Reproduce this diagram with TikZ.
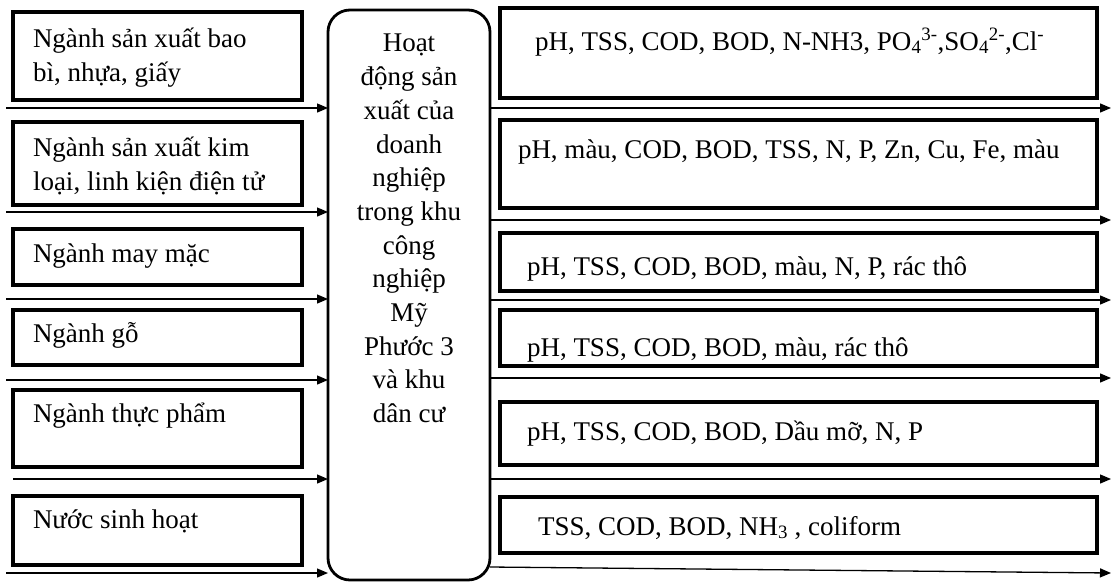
\documentclass[tikz,border=0pt]{standalone}
\usepackage{fontspec}
\setmainfont{Liberation Serif}
\usetikzlibrary{arrows.meta}
\tikzset{
  x=1pt, y=-1pt,
  box/.style={draw=black, line width=3.4pt, rectangle, inner sep=0pt, outer sep=0pt},
  midbox/.style={draw=black, line width=2.8pt, rectangle, rounded corners=22pt, inner sep=0pt, outer sep=0pt},
  txt/.style={inner sep=0pt, outer sep=0pt, font=\fontsize{27}{33.7}\selectfont},
  arr/.style={line width=1.3pt, -{Triangle[length=11pt,width=9pt]}},
}
\begin{document}
\begin{tikzpicture}
\useasboundingbox (0,0) rectangle (1111,582);
% left boxes
\node[box, minimum width=289pt, minimum height=88pt] (L1) at (157.5,56) {};
\node[box, minimum width=289pt, minimum height=83pt] (L2) at (157.5,163.5) {};
\node[box, minimum width=289pt, minimum height=56pt] (L3) at (157.5,257) {};
\node[box, minimum width=289pt, minimum height=55pt] (L4) at (157.5,337.5) {};
\node[box, minimum width=289pt, minimum height=77pt] (L5) at (157.5,428.5) {};
\node[box, minimum width=289pt, minimum height=69pt] (L6) at (157.5,530.5) {};
\node[txt, anchor=north west, align=left] (tL1) at (33,24.4) {\strut Ngành sản xuất bao\\bì, nhựa, giấy};
\node[txt, anchor=north west, align=left] (tL2) at (33,133.4) {\strut Ngành sản xuất kim\\loại, linh kiện điện tử};
\node[txt, anchor=base west] (tL3) at (33,262) {Ngành may mặc};
\node[txt, anchor=base west] (tL4) at (33,342) {Ngành gỗ};
\node[txt, anchor=base west] (tL5) at (33,422) {Ngành thực phẩm};
\node[txt, anchor=base west] (tL6) at (33,528) {Nước sinh hoạt};
% middle box
\node[midbox, minimum width=162pt, minimum height=570pt] (mid) at (409,295) {};
\node[txt, anchor=north, align=center] (tmid) at (409,28.4) {\strut Hoạt\\động sản\\xuất của\\doanh\\nghiệp\\trong khu\\công\\nghiệp\\Mỹ\\Phước 3\\và khu\\dân cư};
% right boxes
\node[box, minimum width=597pt, minimum height=90pt] (R1) at (798.5,53) {};
\node[box, minimum width=597pt, minimum height=88pt] (R2) at (798.5,164) {};
\node[box, minimum width=597pt, minimum height=58pt] (R3) at (798.5,262) {};
\node[box, minimum width=597pt, minimum height=56pt] (R4) at (798.5,338) {};
\node[box, minimum width=597pt, minimum height=63pt] (R5) at (798.5,433.5) {};
\node[box, minimum width=597pt, minimum height=56pt] (R6) at (798.5,525) {};
\node[txt, anchor=base west] (tR1) at (535,50) {pH, TSS, COD, BOD, N-NH3, PO\textsubscript{4}\textsuperscript{3-},SO\textsubscript{4}\textsuperscript{2-},Cl\textsuperscript{-}};
\node[txt, anchor=base west] (tR2) at (518,158) {pH, màu, COD, BOD, TSS, N, P, Zn, Cu, Fe, màu};
\node[txt, anchor=base west] (tR3) at (527,275) {pH, TSS, COD, BOD, màu, N, P, rác thô};
\node[txt, anchor=base west] (tR4) at (527,356) {pH, TSS, COD, BOD, màu, rác thô};
\node[txt, anchor=base west] (tR5) at (527,440) {pH, TSS, COD, BOD, Dầu mỡ, N, P};
\node[txt, anchor=base west] (tR6) at (538,535) {TSS, COD, BOD, NH\textsubscript{3} , coliform};
% left arrows (free start points)
\coordinate (a1) at (6,108);
\coordinate (a2) at (6,212);
\coordinate (a3) at (6,299);
\coordinate (a4) at (6,380);
\coordinate (a5) at (13,479);
\coordinate (a6) at (6,573);
\foreach \i in {1,...,6} {\draw[arr] (a\i) -- (a\i -| mid.west);}
% right arrows (free end points)
\coordinate (b1) at (1111,108);
\coordinate (b2) at (1111,220);
\coordinate (b3) at (1111,300);
\coordinate (b4) at (1111,378);
\coordinate (b5) at (1111,479);
\coordinate (b6) at (1111,573);
\foreach \i in {1,...,5} {\draw[arr] (b\i -| mid.east) -- (b\i);}
\coordinate (s6) at (mid.east |- 0,567);
\draw[arr] (s6) -- (b6);
\end{tikzpicture}
\end{document}
